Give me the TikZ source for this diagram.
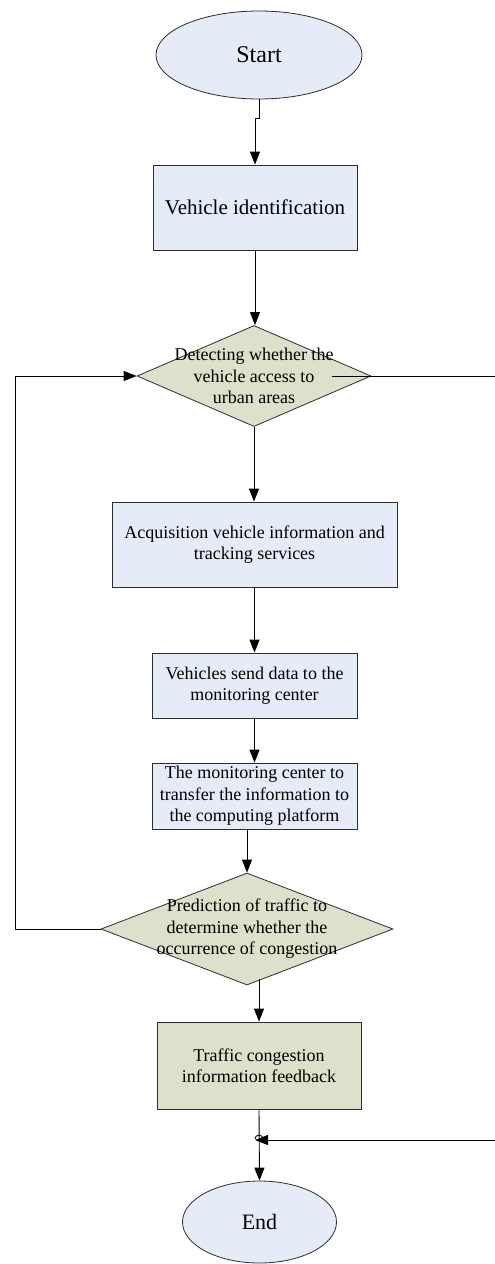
\documentclass[tikz,border=0pt]{standalone}
\usepackage{fontspec}
\setmainfont{Liberation Serif}
\usetikzlibrary{shapes.geometric,arrows.meta,calc}

\definecolor{boxblue}{RGB}{230,236,247}
\definecolor{boxgreen}{RGB}{221,224,203}
\definecolor{edgegray}{RGB}{45,45,45}

\tikzset{
  base/.style={draw=edgegray, line width=0.8pt, inner sep=0pt, align=center,
               font=\fontsize{18}{21.5}\selectfont},
  terminal/.style={base, ellipse, fill=boxblue},
  process/.style={base, rectangle, fill=boxblue},
  result/.style={base, rectangle, fill=boxgreen},
  decision/.style={base, diamond, fill=boxgreen},
  dtext/.style={align=center, font=\fontsize{18}{21.5}\selectfont, inner sep=0pt},
  flow/.style={draw=black, line width=0.9pt, -{Triangle[length=13pt,width=10pt]}},
  plain/.style={draw=black, line width=0.9pt}
}

\begin{document}
\begin{tikzpicture}[x=1pt, y=-1pt]
\useasboundingbox (0,0) rectangle (495,1264);

% --- shapes ---
\node[terminal, minimum width=206pt, minimum height=88pt,
      font=\fontsize{24}{27}\selectfont] (start) at (259,55) {Start};
\node[process, minimum width=204pt, minimum height=85pt,
      font=\fontsize{21}{24}\selectfont] (vid) at (255,207.5) {Vehicle identification};
\node[decision, minimum width=234pt, minimum height=101pt,
      label={[dtext]center:{Detecting whether the\\vehicle access to\\urban areas}}]
      (d1) at (254,376) {};
\node[process, minimum width=285pt, minimum height=85pt] (acq) at (254.5,544.5)
      {Acquisition vehicle information and\\tracking services};
\node[process, minimum width=205pt, minimum height=65pt] (send) at (254.5,685.5)
      {Vehicles send data to the\\monitoring center};
\node[process, minimum width=205pt, minimum height=66pt] (mon) at (254.5,796)
      {The monitoring center to\\transfer the information to\\the computing platform};
\node[decision, minimum width=292pt, minimum height=112pt,
      label={[dtext]center:{Prediction of traffic to\\determine whether the\\occurrence of congestion}}]
      (d2) at (247,929) {};
\node[result, minimum width=204pt, minimum height=87pt] (traffic) at (259,1065.5)
      {Traffic congestion\\information feedback};
\node[terminal, minimum width=154pt, minimum height=82pt,
      font=\fontsize{22}{25}\selectfont] (end) at (259.5,1222) {End};

% --- helper points for the loops ---
\coordinate (lft) at (15,0);
\coordinate (rgt) at (505,0);
\coordinate (join) at (259,1140);

% --- main flow ---
\draw[flow] (start.south) -- ++(0,19) -| (vid.north);
\draw[flow] (vid.south) -- (vid.south |- d1.north);
\draw[flow] (d1.south) -- (d1.south |- acq.north);
\draw[flow] (acq.south) -- (send.north);
\draw[flow] (send.south) -- (mon.north);
\draw[flow] (d2.north |- mon.south) -- (d2.north);
\draw[flow] ($(d2.south -| traffic.north)+(0,-6)$) -- (traffic.north);
\draw[flow] (traffic.south) -- (end.north);

% --- feedback loop back to the detection step ---
\draw[flow] (d2.west) -- (d2.west -| lft) -- (d1.west -| lft) -- (d1.west);

% --- exit branch joining before End ---
\draw[flow] ($(d1.east)+(-39,0)$) -- (d1.east -| rgt) -- (join -| rgt)
            -- ($(join)+(-4,0)$);
\draw[plain] ($(join)+(-4,-1)$) arc[start angle=180, end angle=360, radius=4];

\end{tikzpicture}
\end{document}
